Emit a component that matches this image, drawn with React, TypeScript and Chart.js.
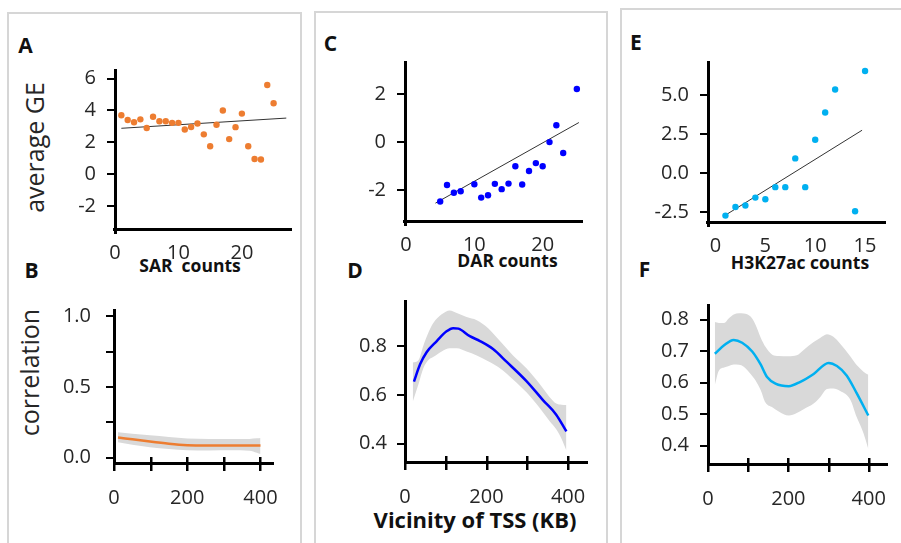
import React, { useEffect, useRef } from "react";
import { Chart, registerables } from "chart.js";
Chart.register(...registerables);

// ---------- Panel A: SAR counts vs average GE ----------
const sarCounts = [1, 2, 3, 4, 5, 6, 7, 8, 9, 10, 11, 12, 13, 14, 15, 16, 17, 18, 19, 20, 21, 22, 23, 24, 25];
const sarGE = [3.7, 3.4, 3.26, 3.44, 2.9, 3.6, 3.32, 3.32, 3.22, 3.22, 2.8, 2.96, 3.18, 2.5, 1.75, 3.1, 4.0, 2.2, 2.95, 3.8, 1.75, 0.95, 0.92, 5.6, 4.45];
const sarFitX = [1, 27];
const sarFitY = [2.88, 3.52];
const aXTicks = [0, 10, 20];
const aYTicks = [-2, 0, 2, 4, 6];

// ---------- Panel C: DAR counts ----------
const darCounts = [5, 6, 7, 8, 10, 11, 12, 13, 14, 15, 16, 17, 18, 19, 20, 21, 22, 23, 25];
const darGE = [-2.46, -1.78, -2.1, -2.04, -1.75, -2.3, -2.2, -1.73, -1.95, -1.72, -1.0, -1.76, -1.2, -0.87, -1.0, 0.0, 0.7, -0.45, 2.2];
const darFitX = [4.3, 25.3];
const darFitY = [-2.53, 0.81];
const cXTicks = [0, 10, 20];
const cYTicks = [-2, 0, 2];

// ---------- Panel E: H3K27ac counts ----------
const h3Counts = [1, 2, 3, 4, 5, 6, 7, 8, 9, 10, 11, 12, 14, 15];
const h3GE = [-2.7, -2.15, -2.05, -1.55, -1.65, -0.88, -0.88, 0.96, -0.88, 2.15, 3.9, 5.37, -2.42, 6.55];
const h3FitX = [0.9, 14.7];
const h3FitY = [-2.71, 2.76];
const eXTicks = [0, 5, 10, 15];
const eYTicks = [-2.5, 0, 2.5, 5];

// ---------- Panel B: correlation vs vicinity (SAR) ----------
const bLineX = [11, 50, 98, 150, 200, 250, 300, 350, 400];
const bLineY = [0.143, 0.13, 0.114, 0.099, 0.089, 0.086, 0.086, 0.086, 0.087];
const bBandX = [11, 50, 98, 150, 200, 260, 320, 370, 390, 400];
const bBandHi = [0.18, 0.17, 0.158, 0.146, 0.136, 0.133, 0.132, 0.133, 0.137, 0.14];
const bBandLo = [0.11, 0.092, 0.075, 0.062, 0.053, 0.052, 0.053, 0.05, 0.035, 0.026];
const bYTicks = [0, 0.25, 0.5, 0.75, 1];
const bYLabeled = [0, 0.5, 1];

// ---------- Panel D: correlation vs vicinity (DAR) ----------
const dLineX = [22, 37, 53, 78, 102, 118, 131, 159, 184, 216, 249, 298, 339, 371, 396];
const dLineY = [0.655, 0.726, 0.776, 0.822, 0.862, 0.875, 0.873, 0.842, 0.822, 0.789, 0.737, 0.657, 0.578, 0.519, 0.45];
const dBandX = [19, 33, 45, 57, 69, 90, 110, 127, 151, 176, 204, 233, 265, 298, 331, 355, 371, 384, 396];
const dBandHi = [0.734, 0.743, 0.803, 0.855, 0.895, 0.932, 0.948, 0.937, 0.921, 0.908, 0.875, 0.822, 0.763, 0.71, 0.644, 0.591, 0.565, 0.56, 0.559];
const dBandLo = [0.572, 0.644, 0.71, 0.743, 0.756, 0.779, 0.792, 0.792, 0.779, 0.763, 0.739, 0.71, 0.664, 0.611, 0.545, 0.492, 0.459, 0.42, 0.371];
const dYTicks = [0.4, 0.6, 0.8];

// ---------- Panel F: correlation vs vicinity (H3K27ac) ----------
const fLineX = [17, 40, 64, 85, 110, 131, 147, 168, 201, 230, 263, 300, 321, 345, 370, 399];
const fLineY = [0.692, 0.719, 0.736, 0.727, 0.699, 0.658, 0.618, 0.597, 0.589, 0.603, 0.628, 0.663, 0.653, 0.623, 0.567, 0.496];
const fBandX = [17, 27, 40, 52, 64, 77, 89, 106, 118, 131, 143, 160, 176, 201, 221, 238, 263, 279, 296, 312, 329, 354, 370, 387, 399];
const fBandHi = [0.793, 0.79, 0.79, 0.805, 0.817, 0.821, 0.82, 0.81, 0.785, 0.744, 0.714, 0.689, 0.685, 0.684, 0.687, 0.704, 0.729, 0.742, 0.754, 0.746, 0.724, 0.684, 0.656, 0.635, 0.625];
const fBandLo = [0.592, 0.638, 0.648, 0.653, 0.658, 0.657, 0.651, 0.628, 0.608, 0.577, 0.537, 0.522, 0.509, 0.496, 0.504, 0.516, 0.534, 0.554, 0.58, 0.582, 0.574, 0.547, 0.491, 0.44, 0.39];
const fYTicks = [0.4, 0.5, 0.6, 0.7, 0.8];

const curveXTicks = [0, 100, 200, 300, 400];
const curveXLabeled = [0, 200, 400];

const ORANGE = "#ED7D31";
const BLUE = "#0000FF";
const CYAN = "#00B0F0";
const BAND = "#D9D9D9";
const TEXT = "#262626";
const FONT = "'Open Sans', 'Noto Sans', sans-serif";

const YW = 70;
const XH = 45;
const PAD = 16;

const zip = (xs: number[], ys: number[]) => xs.map((x, i) => ({ x, y: ys[i] }));

// Draws the axis lines and tick marks from the chart's own scales, after everything else.
const axesPlugin = {
  id: "axesDraw",
  afterDraw(chart: any, _args: any, opts: any) {
    const area = chart.chartArea;
    const xs = chart.scales.x;
    const ys = chart.scales.y;
    const ctx: CanvasRenderingContext2D = chart.ctx;
    const cross = !!(opts && opts.cross);
    const left = Math.round(area.left);
    const bottom = Math.round(area.bottom);
    const top = Math.round(area.top);
    const right = Math.round(area.right);
    ctx.save();
    ctx.setLineDash([]);
    ctx.globalAlpha = 1;
    ctx.globalCompositeOperation = "source-over";
    ctx.fillStyle = "#000";
    // y axis line
    ctx.fillRect(left - 1, top, 3, bottom - top + (cross ? 1 : 5));
    // x axis line
    ctx.fillRect(left - (cross ? 1 : 2), bottom - 1, right - left + (cross ? 1 : 2), 3);
    // y tick marks
    ys.ticks.forEach((t: any) => {
      const py = Math.round(ys.getPixelForValue(t.value));
      ctx.fillRect(left - 8, py - 1, 8, 2);
    });
    // x tick marks crossing the axis
    if (cross) {
      xs.ticks.forEach((t: any) => {
        const px = Math.round(xs.getPixelForValue(t.value));
        ctx.fillRect(px - 1, bottom - 6, 2.5, 14);
      });
    }
    ctx.restore();
  },
};

type Area = { l: number; t: number; r: number; b: number };

type Spec = {
  area: Area;
  type: "scatter" | "line";
  xMin: number;
  xMax: number;
  yMin: number;
  yMax: number;
  xTicks: number[];
  yTicks: number[];
  xLabel: (v: number) => string;
  yLabel: (v: number) => string;
  datasets: any[];
  cross: boolean;
  xPad: number;
  yPad: number;
};

function buildConfig(s: Spec): any {
  return {
    type: s.type,
    data: { datasets: s.datasets },
    plugins: [axesPlugin],
    options: {
      animation: false,
      responsive: false,
      maintainAspectRatio: false,
      events: [],
      layout: { padding: { left: 0, right: PAD, top: PAD, bottom: 0 } },
      plugins: {
        legend: { display: false },
        tooltip: { enabled: false },
        axesDraw: { cross: s.cross },
      },
      scales: {
        x: {
          type: "linear",
          min: s.xMin,
          max: s.xMax,
          afterBuildTicks: (sc: any) => {
            sc.ticks = s.xTicks.map((v) => ({ value: v }));
          },
          afterFit: (sc: any) => {
            sc.height = XH;
          },
          grid: { display: false },
          border: { display: false },
          ticks: {
            autoSkip: false,
            maxRotation: 0,
            padding: s.xPad,
            color: TEXT,
            font: { family: FONT, size: 20 },
            callback: (v: any) => s.xLabel(Number(v)),
          },
        },
        y: {
          type: "linear",
          min: s.yMin,
          max: s.yMax,
          afterBuildTicks: (sc: any) => {
            sc.ticks = s.yTicks.map((v) => ({ value: v }));
          },
          afterFit: (sc: any) => {
            sc.width = YW;
          },
          grid: { display: false },
          border: { display: false },
          ticks: {
            autoSkip: false,
            padding: s.yPad,
            color: TEXT,
            font: { family: FONT, size: 20 },
            callback: (v: any) => s.yLabel(Number(v)),
          },
        },
      },
    },
  };
}

function scatterSets(xs: number[], ys: number[], fx: number[], fy: number[], color: string) {
  return [
    {
      type: "scatter",
      data: zip(xs, ys),
      pointRadius: 3.2,
      pointBackgroundColor: color,
      pointBorderWidth: 0,
      showLine: false,
    },
    {
      type: "scatter",
      data: zip(fx, fy),
      showLine: true,
      borderColor: "#333",
      borderWidth: 1,
      pointRadius: 0,
    },
  ];
}

function curveSets(lx: number[], ly: number[], bx: number[], hi: number[], lo: number[], color: string) {
  return [
    {
      data: zip(lx, ly),
      borderColor: color,
      borderWidth: 2.5,
      pointRadius: 0,
      cubicInterpolationMode: "monotone",
      fill: false,
    },
    {
      data: zip(bx, hi),
      borderWidth: 0,
      borderColor: "rgba(0,0,0,0)",
      backgroundColor: BAND,
      pointRadius: 0,
      cubicInterpolationMode: "monotone",
      fill: "+1",
    },
    {
      data: zip(bx, lo),
      borderWidth: 0,
      borderColor: "rgba(0,0,0,0)",
      backgroundColor: BAND,
      pointRadius: 0,
      cubicInterpolationMode: "monotone",
      fill: false,
    },
  ];
}

function Panel({ spec }: { spec: Spec }) {
  const ref = useRef<HTMLCanvasElement | null>(null);
  const a = spec.area;
  const left = a.l - YW;
  const top = a.t - PAD;
  const width = a.r - a.l + YW + PAD;
  const height = a.b - a.t + PAD + XH;
  useEffect(() => {
    const c = new Chart(ref.current as HTMLCanvasElement, buildConfig(spec));
    return () => c.destroy();
  }, []);
  return (
    <canvas
      ref={ref}
      width={width}
      height={height}
      style={{ position: "absolute", left, top, width, height, zIndex: 2 }}
    />
  );
}

function Label({ x, y, text, size, bold, rotate }: { x: number; y: number; text: string; size: number; bold?: boolean; rotate?: boolean }) {
  const w = rotate ? 200 : 240;
  return (
    <div
      style={{
        position: "absolute",
        left: x - w / 2,
        top: y - size / 2,
        width: w,
        height: size,
        lineHeight: `${size}px`,
        fontSize: size,
        fontFamily: FONT,
        fontWeight: bold ? 700 : 400,
        color: bold ? "#111" : TEXT,
        textAlign: "center",
        whiteSpace: "pre",
        transform: rotate ? "rotate(-90deg)" : undefined,
        transformOrigin: "center center",
        pointerEvents: "none",
        zIndex: 1,
      }}
    >
      {text}
    </div>
  );
}

const intFmt = (v: number) => String(v);
const oneDec = (v: number) => v.toFixed(1);

const specs: Spec[] = [
  {
    area: { l: 115, t: 62, r: 292, b: 229 },
    type: "scatter",
    xMin: 0, xMax: 27.9, yMin: -3.44, yMax: 6.6,
    xTicks: aXTicks, yTicks: aYTicks,
    xLabel: intFmt, yLabel: intFmt,
    datasets: scatterSets(sarCounts, sarGE, sarFitX, sarFitY, ORANGE),
    cross: false, xPad: 4, yPad: 11,
  },
  {
    area: { l: 405, t: 54, r: 583, b: 221 },
    type: "scatter",
    xMin: -0.15, xMax: 25.9, yMin: -3.27, yMax: 3.36,
    xTicks: cXTicks, yTicks: cYTicks,
    xLabel: intFmt, yLabel: intFmt,
    datasets: scatterSets(darCounts, darGE, darFitX, darFitY, BLUE),
    cross: false, xPad: 4, yPad: 11,
  },
  {
    area: { l: 708, t: 54, r: 886, b: 222 },
    type: "scatter",
    xMin: -0.75, xMax: 17.1, yMin: -3.11, yMax: 7.19,
    xTicks: eXTicks, yTicks: eYTicks,
    xLabel: intFmt, yLabel: oneDec,
    datasets: scatterSets(h3Counts, h3GE, h3FitX, h3FitY, CYAN),
    cross: false, xPad: 4, yPad: 11,
  },
  {
    area: { l: 114, t: 298, r: 278, b: 463 },
    type: "line",
    xMin: 0, xMax: 437, yMin: -0.037, yMax: 1.05,
    xTicks: curveXTicks, yTicks: bYTicks,
    xLabel: (v) => (curveXLabeled.includes(v) ? String(v) : ""),
    yLabel: (v) => (bYLabeled.includes(v) ? v.toFixed(1) : ""),
    datasets: curveSets(bLineX, bLineY, bBandX, bBandHi, bBandLo, ORANGE),
    cross: true, xPad: 15, yPad: 15,
  },
  {
    area: { l: 405, t: 294, r: 588, b: 462 },
    type: "line",
    xMin: 0, xMax: 449, yMin: 0.324, yMax: 0.991,
    xTicks: curveXTicks, yTicks: dYTicks,
    xLabel: (v) => (curveXLabeled.includes(v) ? String(v) : ""),
    yLabel: oneDec,
    datasets: curveSets(dLineX, dLineY, dBandX, dBandHi, dBandLo, BLUE),
    cross: true, xPad: 15, yPad: 10,
  },
  {
    area: { l: 708, t: 297, r: 888, b: 464 },
    type: "line",
    xMin: 0, xMax: 448, yMin: 0.342, yMax: 0.85,
    xTicks: curveXTicks, yTicks: fYTicks,
    xLabel: (v) => (curveXLabeled.includes(v) ? String(v) : ""),
    yLabel: oneDec,
    datasets: curveSets(fLineX, fLineY, fBandX, fBandHi, fBandLo, CYAN),
    cross: true, xPad: 15, yPad: 11,
  },
];

const boxStyle = (left: number, top: number, width: number): React.CSSProperties => ({
  position: "absolute",
  left,
  top,
  width,
  height: 600,
  border: "2px solid #D6D6D6",
  boxSizing: "border-box",
  zIndex: 0,
});

export default function App() {
  return (
    <div
      style={{
        position: "absolute",
        left: 0,
        top: 0,
        width: 901,
        height: 543,
        overflow: "hidden",
        background: "#fff",
      }}
    >
      <div style={boxStyle(7, 12, 295)} />
      <div style={boxStyle(314, 11, 294)} />
      <div style={boxStyle(620, 8, 300)} />

      {specs.map((s, i) => (
        <Panel key={i} spec={s} />
      ))}

      <Label x={25.5} y={45.5} text="A" size={21} bold />
      <Label x={31.5} y={270.5} text="B" size={21} bold />
      <Label x={330.5} y={43.5} text="C" size={21} bold />
      <Label x={355} y={270} text="D" size={21} bold />
      <Label x={636} y={42} text="E" size={21} bold />
      <Label x={644.5} y={269.5} text="F" size={21} bold />

      <Label x={190} y={266} text="SAR  counts" size={17.5} bold />
      <Label x={507.5} y={261} text="DAR counts" size={17.5} bold />
      <Label x={800} y={262.5} text="H3K27ac counts" size={17.5} bold />
      <Label x={475} y={519} text="Vicinity of TSS (KB)" size={22} bold />

      <Label x={34} y={147.5} text="average GE" size={25} rotate />
      <Label x={28.5} y={372.5} text="correlation" size={25} rotate />
    </div>
  );
}
